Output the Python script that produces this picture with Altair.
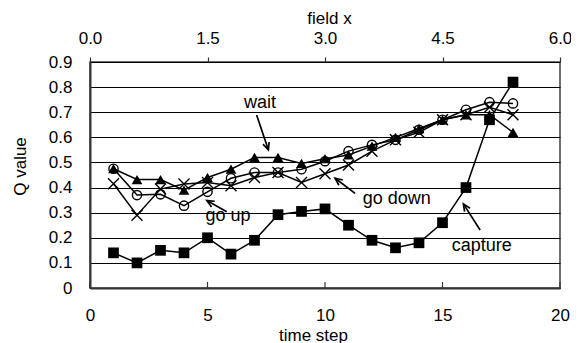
import math
import altair as alt
import pandas as pd

# ---------------- data ----------------
steps = list(range(1, 19))
capture = [0.14, 0.10, 0.15, 0.14, 0.20, 0.135, 0.19, 0.292, 0.305, 0.315,
           0.25, 0.19, 0.16, 0.18, 0.26, 0.40, 0.67, 0.82]
wait = [0.475, 0.432, 0.432, 0.39, 0.44, 0.473, 0.52, 0.52, 0.496, 0.515,
        0.53, 0.565, 0.60, 0.635, 0.67, 0.69, 0.69, 0.62]
go_up = [0.475, 0.37, 0.373, 0.328, 0.383, 0.437, 0.46, 0.46, 0.473, 0.505,
         0.545, 0.57, 0.59, 0.63, 0.67, 0.71, 0.74, 0.735]
go_down = [0.415, 0.29, 0.394, 0.414, 0.42, 0.407, 0.44, 0.46, 0.42, 0.455,
           0.49, 0.545, 0.59, 0.62, 0.67, 0.69, 0.72, 0.69]

x_ticks = [0, 5, 10, 15, 20]
y_ticks = [0.0, 0.1, 0.2, 0.3, 0.4, 0.5, 0.6, 0.7, 0.8, 0.9]
field_ticks = [0.0, 1.5, 3.0, 4.5, 6.0]

labels = ["wait", "go up", "go down", "capture"]
label_x = [7.23, 5.87, 13.05, 16.67]
label_y = [0.737, 0.287, 0.354, 0.169]
arrow_tail_x = [7.09, 5.82, 11.28, 16.60]
arrow_tail_y = [0.689, 0.304, 0.377, 0.231]
arrow_head_x = [7.59, 4.97, 10.43, 15.89]
arrow_head_y = [0.550, 0.348, 0.437, 0.335]

# ---------------- layout ----------------
W, H = 470, 226
PX_PER_X = W / 20.0
PX_PER_Y = H / 0.9
FONT = "Liberation Sans"
FS = 17

x_scale = alt.Scale(domain=[0, 20], nice=False, zero=False)
y_scale = alt.Scale(domain=[0, 0.9], nice=False)

x_axis = alt.Axis(values=x_ticks, ticks=False, grid=False, labelFlush=False,
                  labelPadding=19, domain=True, domainColor="#333333", domainWidth=2,
                  title="time step", titleX=223, titleY=52,
                  titleBaseline="alphabetic", titleAlign="center")
y_axis = alt.Axis(values=y_ticks, grid=True, gridColor="#000000", gridWidth=1,
                  ticks=False, tickSize=0, labelPadding=18,
                  labelExpr="datum.value == 0 ? '0' : format(datum.value, '.1f')",
                  domain=True, domainColor="#333333", domainWidth=2,
                  title="Q value", titleX=-70, titleY=104, titleAngle=270,
                  titleAlign="center", titleBaseline="middle")

def X(field):
    return alt.X(field, scale=x_scale, axis=x_axis)

def Y(field):
    return alt.Y(field, scale=y_scale, axis=y_axis)

series = {
    "capture": capture,
    "wait": wait,
    "go up": go_up,
    "go down": go_down,
}
rows = []
for name, vals in series.items():
    for s, v in zip(steps, vals):
        rows.append({"series": name, "t": s, "q": v})
df = pd.DataFrame(rows)

lines = alt.Chart(df).mark_line(color="black", strokeWidth=1.5).encode(
    x=X("t:Q"), y=Y("q:Q"), detail="series:N",
)

def pts(name, shape, size, filled, sw=1.4):
    d = df[df["series"] == name]
    m = alt.Chart(d).mark_point(shape=shape, size=size, filled=filled,
                                color="black", strokeWidth=sw, opacity=1)
    return m.encode(x=X("t:Q"), y=Y("q:Q"))

cross_path = "M-1,-1L1,1M-1,1L1,-1"
p_down = pts("go down", cross_path, 121, False)
p_up = pts("go up", "circle", 85, False)
p_wait = pts("wait", "triangle-up", 115, True)
p_cap = pts("capture", "square", 115, True)

# bottom inner ticks
tick_df = pd.DataFrame({"t": x_ticks})
inner_ticks = alt.Chart(tick_df).mark_rule(color="#333333", strokeWidth=1.2).encode(
    x=X("t:Q"),
    y=alt.value(H),
    y2=alt.value(H - 6),
)

# annotations
ann = pd.DataFrame({
    "label": labels, "lx": label_x, "ly": label_y,
    "tx": arrow_tail_x, "ty": arrow_tail_y,
    "hx": arrow_head_x, "hy": arrow_head_y,
})
angles = []
for tx, ty, hx, hy in zip(arrow_tail_x, arrow_tail_y, arrow_head_x, arrow_head_y):
    dx = (hx - tx) * PX_PER_X
    dy = -(hy - ty) * PX_PER_Y
    angles.append(math.degrees(math.atan2(dx, -dy)) % 360)
ann["angle"] = angles

texts = alt.Chart(ann).mark_text(font=FONT, fontSize=18, color="black",
                                 align="center", baseline="middle").encode(
    x=X("lx:Q"), y=Y("ly:Q"), text="label:N",
)
shafts = alt.Chart(ann).mark_rule(color="black", strokeWidth=1.7).encode(
    x=X("tx:Q"), y=Y("ty:Q"), x2="hx:Q", y2="hy:Q",
)
heads = alt.Chart(ann).mark_point(shape="M-0.45,1L0,0L0.45,1", size=210,
                                  filled=False, color="black", strokeWidth=1.7,
                                  opacity=1).encode(
    x=X("hx:Q"), y=Y("hy:Q"),
    angle=alt.Angle("angle:Q", scale=None),
)

main = alt.layer(lines, inner_ticks, p_down, p_up, p_wait, p_cap, shafts, heads, texts)

# top axis (field x)
top_df = pd.DataFrame({"fx": [0.0, 6.0]})
top = alt.Chart(top_df).mark_point(opacity=0).encode(
    x=alt.X("fx:Q", scale=alt.Scale(domain=[0, 6], nice=False),
            axis=alt.Axis(orient="top", values=field_ticks, format=".1f",
                          labelFlush=False, grid=False, domain=False,
                          ticks=True, tickSize=5, tickColor="#333333", tickWidth=1.2,
                          labelPadding=10, title="field x", titleX=239, titleY=-39,
                          titleBaseline="alphabetic", titleAlign="center")),
)

chart = alt.layer(main, top).resolve_scale(x="independent").properties(
    width=W, height=H,
    autosize=alt.AutoSizeParams(type="none"),
    padding={"left": 82, "top": 54, "right": 11, "bottom": 55},
).configure_view(
    stroke="#404040", strokeWidth=1.5
).configure_axis(
    labelFont=FONT, titleFont=FONT, labelFontSize=FS, titleFontSize=FS,
    labelColor="black", titleColor="black", titleFontWeight="normal",
)

chart.save("out.html", embed_options={"renderer": "svg", "actions": False})
